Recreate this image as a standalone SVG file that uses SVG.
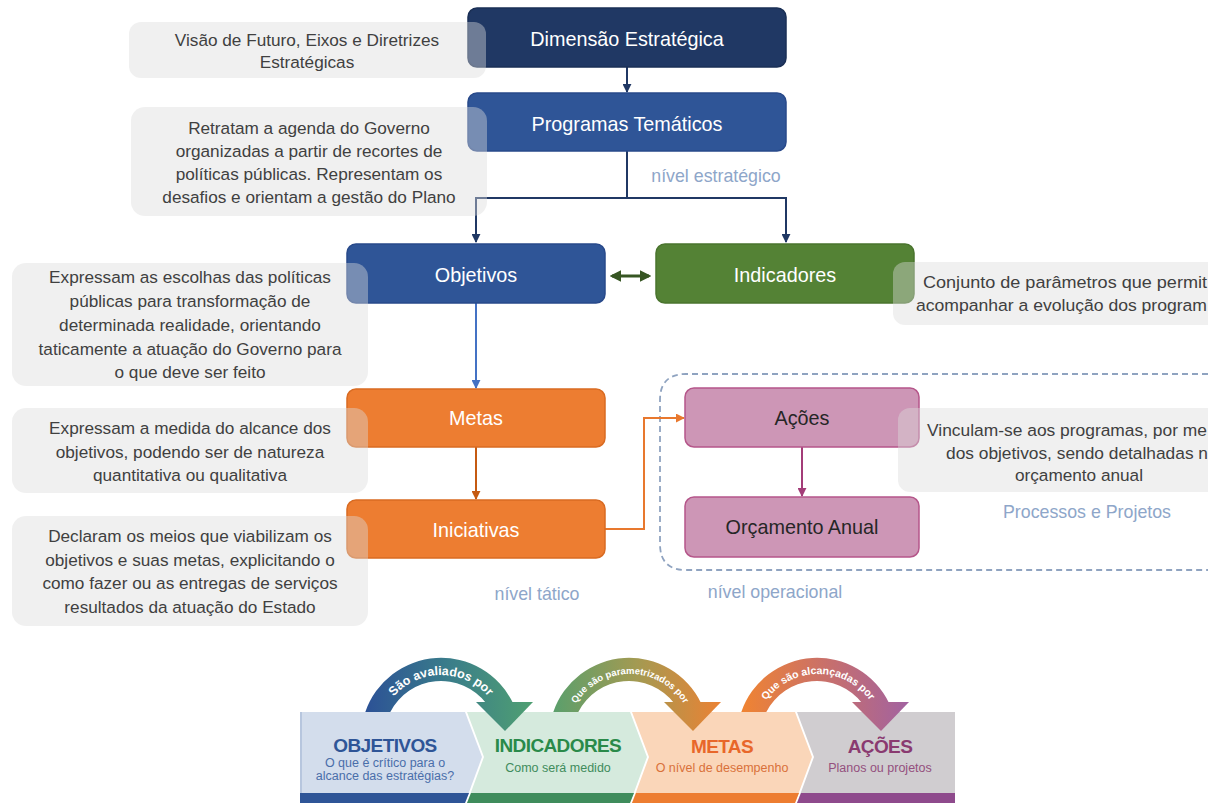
<svg xmlns="http://www.w3.org/2000/svg" width="1228" height="803" viewBox="0 0 1228 803">
<style>
.node text{font-family:"Liberation Sans",Arial,sans-serif;font-size:19.8px;text-anchor:middle;fill:#fff}
.call rect{fill:#dcdcdc;fill-opacity:0.42}
.call text{font-family:"Liberation Sans",Arial,sans-serif;font-size:17.2px;fill:#404040;text-anchor:middle}
.lvl{font-family:"Liberation Sans",Arial,sans-serif;font-size:17.8px;fill:#8ea6c9;text-anchor:middle}
.ptitle{font-family:"Liberation Sans",Arial,sans-serif;font-size:19px;font-weight:bold;text-anchor:middle;letter-spacing:-0.6px}
.psub{font-family:"Liberation Sans",Arial,sans-serif;font-size:12.5px;text-anchor:middle}
.arctext{font-family:"Liberation Sans",Arial,sans-serif;font-weight:bold;fill:#fff}
.conn line,.conn path,.conn polyline{fill:none;stroke-width:2}
</style>
<defs>
<marker id="mNavy" viewBox="0 0 10 10" refX="9" refY="5" markerWidth="4.5" markerHeight="4.5" orient="auto-start-reverse"><path d="M0,0 L10,5 L0,10 Z" fill="#203864"/></marker>
<marker id="mBlue" viewBox="0 0 10 10" refX="9" refY="5" markerWidth="4.5" markerHeight="4.5" orient="auto-start-reverse"><path d="M0,0 L10,5 L0,10 Z" fill="#4472c4"/></marker>
<marker id="mOrD" viewBox="0 0 10 10" refX="9" refY="5" markerWidth="4.5" markerHeight="4.5" orient="auto-start-reverse"><path d="M0,0 L10,5 L0,10 Z" fill="#c55a11"/></marker>
<marker id="mOr" viewBox="0 0 10 10" refX="9" refY="5" markerWidth="4.5" markerHeight="4.5" orient="auto-start-reverse"><path d="M0,0 L10,5 L0,10 Z" fill="#e8782e"/></marker>
<marker id="mPur" viewBox="0 0 10 10" refX="9" refY="5" markerWidth="4.5" markerHeight="4.5" orient="auto-start-reverse"><path d="M0,0 L10,5 L0,10 Z" fill="#a33c78"/></marker>
<marker id="mGr" viewBox="0 0 10 10" refX="8" refY="5" markerWidth="3.8" markerHeight="3.8" orient="auto-start-reverse"><path d="M0,0 L10,5 L0,10 Z" fill="#375623"/></marker>
<clipPath id="rightClip"><rect x="0" y="0" width="1208" height="803"/></clipPath>
<linearGradient id="g1" gradientUnits="userSpaceOnUse" x1="365" y1="0" x2="532" y2="0"><stop offset="0" stop-color="#2c5196"/><stop offset="0.5" stop-color="#3a7d8a"/><stop offset="1" stop-color="#4f9f72"/></linearGradient>
<linearGradient id="g2" gradientUnits="userSpaceOnUse" x1="553" y1="0" x2="720" y2="0"><stop offset="0" stop-color="#5a9f6c"/><stop offset="0.5" stop-color="#a39a52"/><stop offset="1" stop-color="#ea8234"/></linearGradient>
<linearGradient id="g3" gradientUnits="userSpaceOnUse" x1="741" y1="0" x2="908" y2="0"><stop offset="0" stop-color="#f08431"/><stop offset="0.5" stop-color="#c9706a"/><stop offset="1" stop-color="#a262a0"/></linearGradient>
<path id="tp1" d="M 378,738 A 63 63 0 0 1 504,738"/>
<path id="tp2" d="M 566,738 A 64 64 0 0 1 694,738"/>
<path id="tp3" d="M 754,738 A 64 64 0 0 1 882,738"/>
</defs>

<rect x="0" y="0" width="1228" height="803" fill="#ffffff"/>

<!-- dashed operational container -->
<path d="M 1208,374 L 686,374 Q 660,374 660,400 L 660,544 Q 660,570 686,570 L 1208,570" fill="none" stroke="#8fa3c0" stroke-width="1.8" stroke-dasharray="6,4"/>

<!-- connectors -->
<g id="connectors" class="conn">
<line x1="627" y1="67" x2="627" y2="92" stroke="#203864" marker-end="url(#mNavy)"/>
<polyline points="627,151 627,198 476,198 476,242" stroke="#203864" marker-end="url(#mNavy)"/>
<polyline points="627,198 786,198 786,242" stroke="#203864" marker-end="url(#mNavy)"/>
<line x1="612" y1="276" x2="649" y2="276" stroke="#375623" style="stroke-width:3" marker-start="url(#mGr)" marker-end="url(#mGr)"/>
<line x1="476" y1="303" x2="476" y2="388" stroke="#4472c4" marker-end="url(#mBlue)"/>
<line x1="476" y1="447" x2="476" y2="499" stroke="#c55a11" marker-end="url(#mOrD)"/>
<polyline points="605,529 644,529 644,418 684,418" stroke="#e8782e" marker-end="url(#mOr)"/>
<line x1="802" y1="447" x2="802" y2="496" stroke="#a33c78" marker-end="url(#mPur)"/>
</g>

<!-- nodes -->
<g id="n-dimensao" class="node"><rect x="468" y="8" width="318" height="59" rx="9" fill="#203864" stroke="#1a2f55" stroke-width="1.5"/><text x="627" y="46">Dimensão Estratégica</text></g>
<g id="n-programas" class="node"><rect x="468" y="93" width="318" height="58" rx="9" fill="#2f5597" stroke="#28498a" stroke-width="1.5"/><text x="627" y="131">Programas Temáticos</text></g>
<g id="n-objetivos" class="node"><rect x="347" y="244" width="258" height="59" rx="9" fill="#2f5597" stroke="#28498a" stroke-width="1.5"/><text x="476" y="282">Objetivos</text></g>
<g id="n-indicadores" class="node"><rect x="656" y="244" width="258" height="59" rx="9" fill="#548235" stroke="#4a742e" stroke-width="1.5"/><text x="785" y="282">Indicadores</text></g>
<g id="n-metas" class="node"><rect x="347" y="389" width="258" height="58" rx="9" fill="#ed7d31" stroke="#d96b22" stroke-width="1.5"/><text x="476" y="425">Metas</text></g>
<g id="n-iniciativas" class="node"><rect x="347" y="500" width="258" height="58" rx="9" fill="#ed7d31" stroke="#d96b22" stroke-width="1.5"/><text x="476" y="537">Iniciativas</text></g>
<g id="n-acoes" class="node"><rect x="685" y="388" width="234" height="59" rx="9" fill="#cd96b6" stroke="#b5568a" stroke-width="1.5"/><text x="802" y="425" style="fill:#262626">Ações</text></g>
<g id="n-orcamento" class="node"><rect x="685" y="497" width="234" height="60" rx="9" fill="#cd96b6" stroke="#b5568a" stroke-width="1.5"/><text x="802" y="534" style="fill:#262626">Orçamento Anual</text></g>

<!-- callouts -->
<g id="c-dimensao" class="call"><rect x="129" y="22" width="357" height="56" rx="12"/><text x="307" y="46">Visão de Futuro, Eixos e Diretrizes</text><text x="307" y="68">Estratégicas</text></g>
<g id="c-programas" class="call"><rect x="131" y="107" width="356" height="109" rx="14"/><text x="309" y="134">Retratam a agenda do Governo</text><text x="309" y="157">organizadas a partir de recortes de</text><text x="309" y="180">políticas públicas. Representam os</text><text x="309" y="203">desafios e orientam a gestão do Plano</text></g>
<g id="c-objetivos" class="call"><rect x="12" y="263" width="356" height="123" rx="14"/><text x="190" y="283">Expressam as escolhas das políticas</text><text x="190" y="307">públicas para transformação de</text><text x="190" y="331">determinada realidade, orientando</text><text x="190" y="355">taticamente a atuação do Governo para</text><text x="190" y="378">o que deve ser feito</text></g>
<g id="c-metas" class="call"><rect x="12" y="408" width="356" height="85" rx="14"/><text x="190" y="434">Expressam a medida do alcance dos</text><text x="190" y="458">objetivos, podendo ser de natureza</text><text x="190" y="481">quantitativa ou qualitativa</text></g>
<g id="c-iniciativas" class="call"><rect x="12" y="516" width="356" height="110" rx="14"/><text x="190" y="542">Declaram os meios que viabilizam os</text><text x="190" y="566">objetivos e suas metas, explicitando o</text><text x="190" y="589">como fazer ou as entregas de serviços</text><text x="190" y="613">resultados da atuação do Estado</text></g>
<g id="c-indicadores" class="call" clip-path="url(#rightClip)"><rect x="893" y="262" width="372" height="63" rx="12"/><text x="923" y="288" style="text-anchor:start" textLength="284" lengthAdjust="spacingAndGlyphs">Conjunto de parâmetros que permit</text><text x="916" y="311" style="text-anchor:start" textLength="291" lengthAdjust="spacingAndGlyphs">acompanhar a evolução dos program</text></g>
<g id="c-acoes" class="call" clip-path="url(#rightClip)"><rect x="898" y="408" width="367" height="84" rx="12"/><text x="927" y="436" style="text-anchor:start" textLength="280" lengthAdjust="spacingAndGlyphs">Vinculam-se aos programas, por me</text><text x="946" y="459" style="text-anchor:start" textLength="262" lengthAdjust="spacingAndGlyphs">dos objetivos, sendo detalhadas n</text><text x="1079" y="481">orçamento anual</text></g>

<!-- level labels -->
<text class="lvl" x="716" y="182">nível estratégico</text>
<text class="lvl" x="537" y="600">nível tático</text>
<text class="lvl" x="775" y="598">nível operacional</text>
<text class="lvl" x="1087" y="518">Processos e Projetos</text>

<!-- bottom chevron band -->
<g id="p-objetivos">
<polygon points="300,712 465,712 482,757 465,803 300,803" fill="#d3ddec"/>
<polygon points="300,793 469,793 465,803 300,803" fill="#2f5597"/>
<rect x="300" y="712" width="2" height="81" fill="#b7c6de"/>
<text class="ptitle" x="385" y="752" fill="#2f5597">OBJETIVOS</text>
<text class="psub" x="385" y="767" fill="#4a6eaa">O que é crítico para o</text>
<text class="psub" x="385" y="780" fill="#4a6eaa">alcance das estratégias?</text>
</g>
<g id="p-indicadores">
<polygon points="467,712 630,712 647,757 630,803 467,803 484,757" fill="#d5eadd"/>
<polygon points="471,793 634,793 630,803 467,803" fill="#3f8c5c"/>
<text class="ptitle" x="558" y="752" fill="#2a8a4a">INDICADORES</text>
<text class="psub" x="558" y="772" fill="#3f8c5c">Como será medido</text>
</g>
<g id="p-metas">
<polygon points="632,712 795,712 812,757 795,803 632,803 649,757" fill="#fad6b9"/>
<polygon points="636,793 799,793 795,803 632,803" fill="#ed7d31"/>
<text class="ptitle" x="722" y="753" fill="#e8672a">METAS</text>
<text class="psub" x="722" y="772" fill="#d9713a">O nível de desempenho</text>
</g>
<g id="p-acoes">
<polygon points="797,712 955,712 955,803 797,803 814,757" fill="#d0cdd0"/>
<polygon points="801,793 955,793 955,803 797,803" fill="#8e4a8c"/>
<text class="ptitle" x="880" y="753" fill="#8a3a70">AÇÕES</text>
<text class="psub" x="880" y="772" fill="#94507e">Planos ou projetos</text>
</g>

<!-- curved arrows -->
<g id="a-avaliados">
<path d="M 365.3,712 A 80 80 0 0 1 513,703 L 486,703 A 57 57 0 0 0 390.3,712 Z" fill="url(#g1)"/>
<polygon points="476,702 533,702 505,731" fill="url(#g1)"/>
<text class="arctext" font-size="12.5"><textPath href="#tp1" startOffset="50%" text-anchor="middle">São avaliados por</textPath></text>
</g>
<g id="a-parametrizados">
<path d="M 553.3,712 A 80 80 0 0 1 701,703 L 674,703 A 57 57 0 0 0 578.3,712 Z" fill="url(#g2)"/>
<polygon points="664,702 721,702 693,731" fill="url(#g2)"/>
<text class="arctext" font-size="9.5"><textPath href="#tp2" startOffset="50%" text-anchor="middle">Que são parametrizados por</textPath></text>
</g>
<g id="a-alcancadas">
<path d="M 741.3,712 A 80 80 0 0 1 889,703 L 862,703 A 57 57 0 0 0 766.3,712 Z" fill="url(#g3)"/>
<polygon points="852,702 909,702 881,731" fill="url(#g3)"/>
<text class="arctext" font-size="10.5"><textPath href="#tp3" startOffset="50%" text-anchor="middle">Que são alcançadas por</textPath></text>
</g>
</svg>
